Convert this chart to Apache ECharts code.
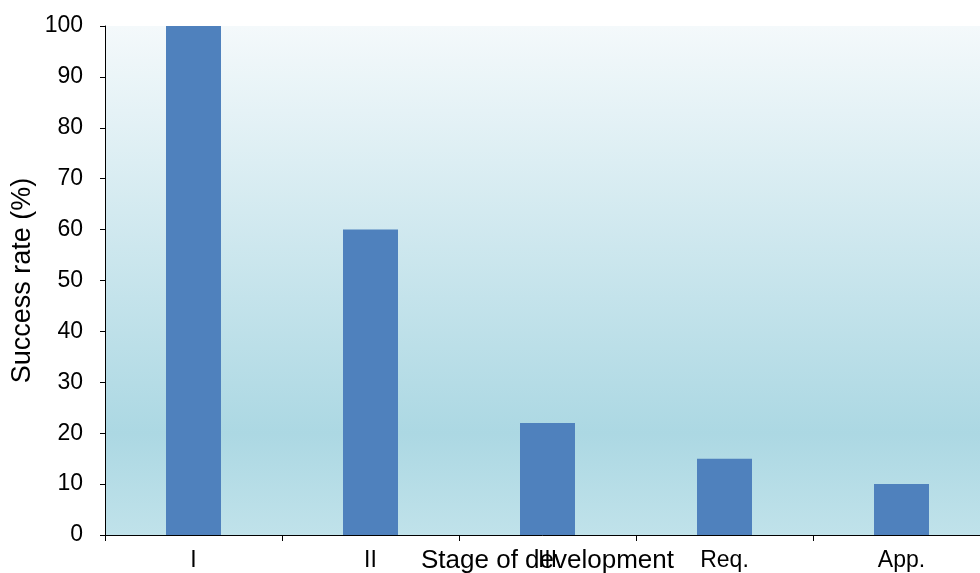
<!DOCTYPE html>
<html>
<head>
<meta charset="utf-8">
<script src="https://cdn.jsdelivr.net/npm/echarts@6/dist/echarts.min.js"></script>
<style>
html,body{margin:0;padding:0;background:#fff;}
#chart{width:980px;height:573px;}
</style>
</head>
<body>
<div id="chart"></div>
<script>
const categories = ['I', 'II', 'III', 'Req.', 'App.'];
const successRate = [100, 60, 22, 15, 10];
const yTicks = { min: 0, max: 100, interval: 10 };

const font = '"Liberation Sans", Arial, sans-serif';
const chart = echarts.init(document.getElementById('chart'));
chart.setOption({
  animation: false,
  grid: {
    left: 105, right: -10, top: 26, bottom: 38,
    containLabel: false,
    outerBoundsMode: 'none',
    show: true, borderWidth: 0,
    backgroundColor: {
      type: 'linear', x: 0, y: 0, x2: 0, y2: 1,
      colorStops: [
        { offset: 0, color: '#f4f9fb' },
        { offset: 0.8, color: '#acd8e3' },
        { offset: 1, color: '#c0e2ea' }
      ]
    }
  },
  xAxis: {
    type: 'category',
    data: categories,
    name: 'Stage of development',
    nameLocation: 'middle',
    nameGap: 13,
    nameMoveOverlap: false,
    nameTextStyle: { fontSize: 26, color: '#000', fontFamily: font, verticalAlign: 'top' },
    axisLine: { lineStyle: { color: '#000', width: 1 } },
    axisTick: { show: true, length: 6, lineStyle: { color: '#000' } },
    axisLabel: { fontSize: 23, color: '#000', fontFamily: font, margin: 14 },
    splitLine: { show: false }
  },
  yAxis: {
    type: 'value',
    min: yTicks.min, max: yTicks.max, interval: yTicks.interval,
    name: 'Success rate (%)',
    nameLocation: 'middle',
    nameRotate: 90,
    nameGap: 69,
    nameMoveOverlap: false,
    nameTextStyle: { fontSize: 27, color: '#000', fontFamily: font },
    axisLine: { show: true, lineStyle: { color: '#000', width: 1 } },
    axisTick: { show: true, length: 5, lineStyle: { color: '#000' } },
    axisLabel: { fontSize: 23, color: '#000', fontFamily: font, margin: 22 },
    splitLine: { show: false }
  },
  series: [{
    type: 'bar',
    data: successRate,
    barWidth: 55,
    itemStyle: { color: '#4f81bd' }
  }]
});
</script>
</body>
</html>
